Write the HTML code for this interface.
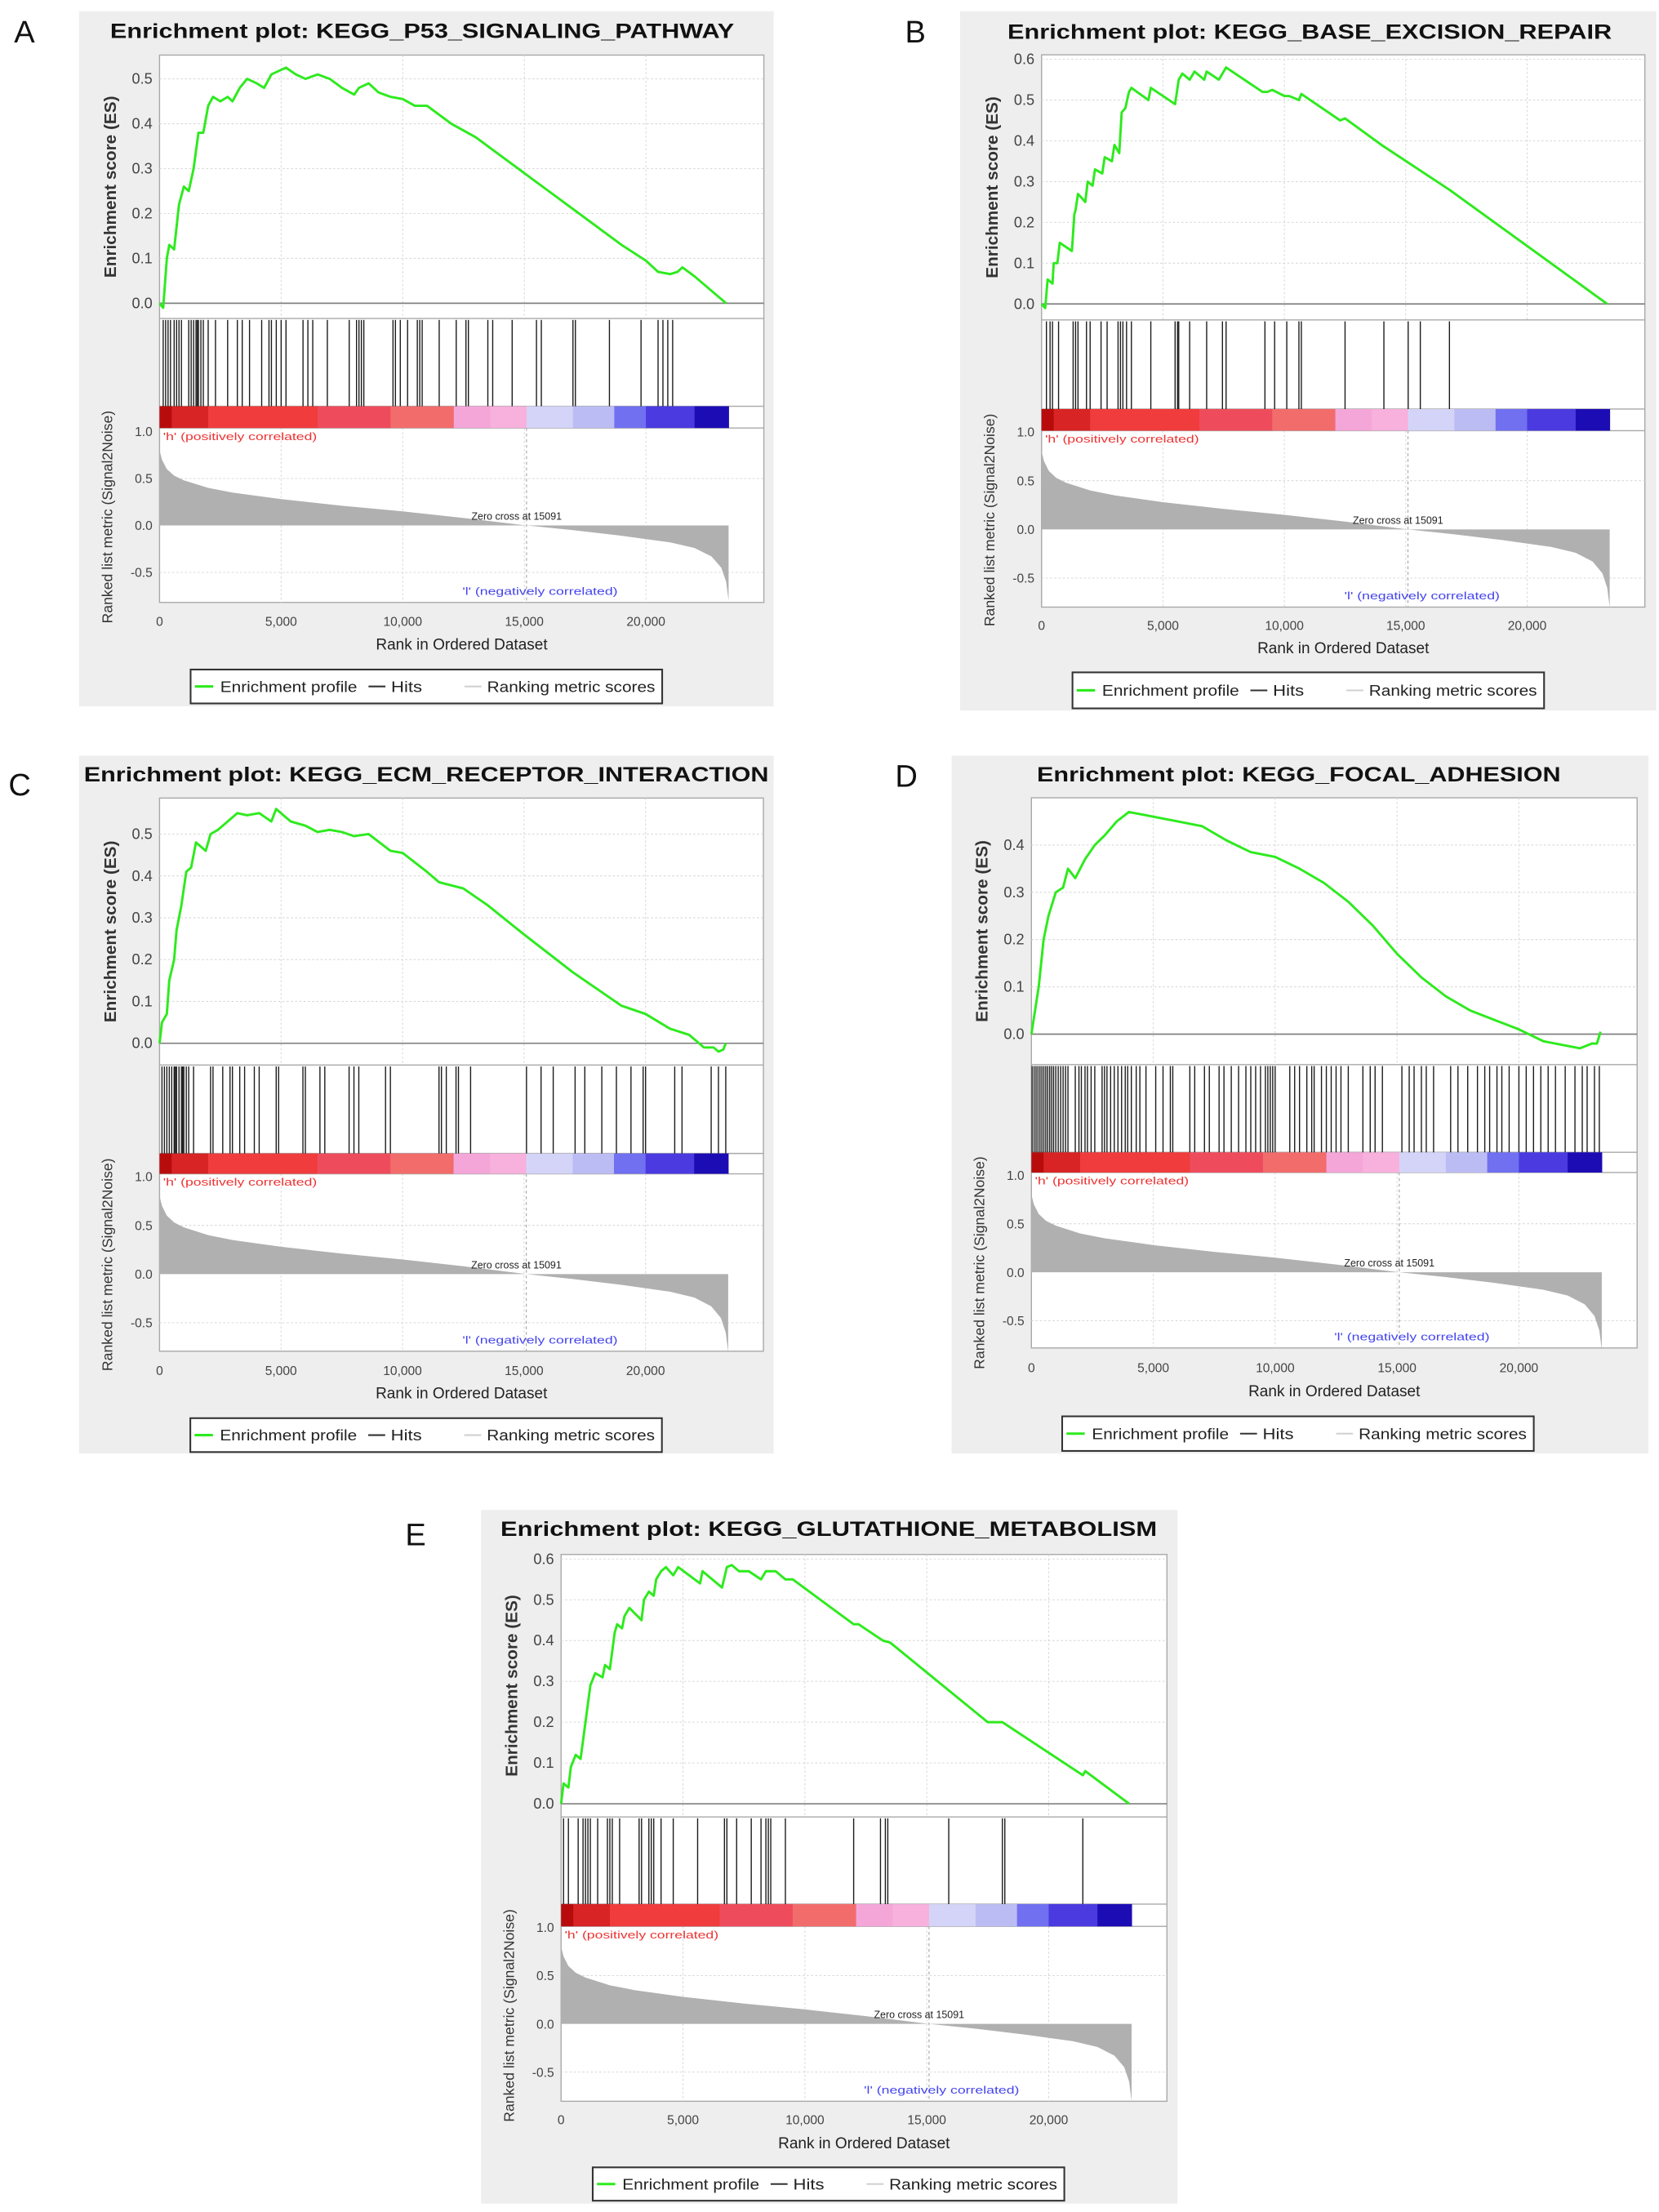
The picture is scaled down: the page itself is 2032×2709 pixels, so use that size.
<!DOCTYPE html>
<html><head><meta charset="utf-8"><title>GSEA enrichment plots</title>
<style>
html,body{margin:0;padding:0;background:#fff;}
svg{display:block;font-family:"Liberation Sans",Arial,sans-serif;}
</style></head>
<body>
<svg id="fig" xmlns="http://www.w3.org/2000/svg" width="2032" height="2709" viewBox="0 0 1175 1566" preserveAspectRatio="none"></svg>
<script>
// ---------- DATA ----------
const xTickValues = [0, 5000, 10000, 15000, 20000];
const xTickLabels = ["0", "5,000", "10,000", "15,000", "20,000"];
const rankedTickValues = [1.0, 0.5, 0.0, -0.5];
const rankedTickLabels = ["1.0", "0.5", "0.0", "-0.5"];
const zeroCross = 15091;
const metricRanks = [0,100,300,600,1000,2000,3000,5000,7500,10000,12500,15091,17000,19000,21000,22000,22700,23100,23300,23400];
const metricVals = [0.8,0.7,0.6,0.53,0.48,0.4,0.35,0.28,0.21,0.15,0.08,0,-0.05,-0.11,-0.18,-0.24,-0.33,-0.45,-0.6,-0.8];
const barEdges = [0,500,2000,6500,9500,12100,13600,15091,17000,18700,20000,22000,23400];
const barColors = ["#b80c0c","#d82424","#f03c3c","#ee4c5c","#f26c6c","#f4a6d8","#f8b0dc","#d4d4f8","#bcbcf4","#7070f0","#4a3ae0","#1c0cb4"];

const esRanksA = [0,150,300,400,600,800,1000,1200,1400,1600,1800,2000,2200,2500,2800,3000,3300,3600,4000,4300,4600,5000,5200,5600,6000,6500,7000,7500,8000,8200,8600,9000,9500,10000,10500,11000,12000,13000,14000,15000,16000,17000,18000,19000,20000,20500,21000,21300,21500,22000,23300];
const esValsA = [0,-0.01,0.1,0.13,0.12,0.22,0.26,0.25,0.3,0.38,0.38,0.44,0.46,0.45,0.46,0.45,0.48,0.5,0.49,0.48,0.51,0.52,0.525,0.51,0.5,0.51,0.5,0.48,0.465,0.48,0.49,0.47,0.46,0.455,0.44,0.44,0.4,0.37,0.33,0.29,0.25,0.21,0.17,0.13,0.095,0.07,0.065,0.07,0.08,0.06,0];
const hitsA = [150,250,350,450,600,700,800,900,1200,1300,1400,1500,1550,1600,1700,1800,2000,2300,2800,3200,3400,3700,4200,4500,4600,4800,5000,5200,5900,6100,6300,6900,7800,8100,8200,8300,8400,9600,9700,9900,10200,10600,10700,10800,11500,12200,12600,12700,13500,13700,14500,15500,15700,17000,17100,18500,19800,20500,20700,20900,21100];

const esRanksB = [0,150,250,450,500,650,750,1250,1350,1400,1500,1800,1900,2100,2200,2500,2600,2900,3000,3200,3300,3450,3600,3700,4400,4500,5500,5650,5800,6100,6300,6700,6800,7300,7600,9100,9300,9500,10000,10200,10600,10700,12300,12500,14000,16800,23300];
const esValsB = [0,-0.01,0.06,0.05,0.1,0.1,0.15,0.13,0.22,0.23,0.27,0.25,0.3,0.29,0.33,0.32,0.36,0.35,0.39,0.37,0.47,0.48,0.52,0.53,0.5,0.53,0.49,0.55,0.565,0.55,0.57,0.55,0.57,0.55,0.58,0.52,0.52,0.525,0.51,0.51,0.5,0.515,0.45,0.455,0.39,0.28,0];
const hitsB = [200,350,450,700,1300,1400,1500,1850,2000,2450,2700,3150,3250,3350,3500,3700,4500,5500,5600,5650,6100,6800,7450,7600,9200,9600,10100,10600,10700,12500,14100,15100,15600,16800];

const esRanksC = [0,100,300,400,600,700,900,1100,1300,1400,1500,1900,2100,2400,2800,3200,3600,4100,4600,4800,5400,6000,6500,7000,7500,8000,8600,9500,10000,11000,11500,12500,13500,15000,17000,19000,20000,21000,21800,22400,22800,23000,23200,23300];
const esValsC = [0,0.05,0.07,0.15,0.2,0.27,0.33,0.41,0.42,0.45,0.48,0.46,0.5,0.51,0.53,0.55,0.545,0.55,0.53,0.56,0.53,0.52,0.505,0.51,0.505,0.495,0.5,0.46,0.455,0.41,0.385,0.37,0.33,0.26,0.17,0.09,0.07,0.035,0.02,-0.01,-0.01,-0.02,-0.015,0];
const hitsC = [100,200,300,400,500,600,650,700,800,900,950,1000,1100,1200,1400,2100,2200,2600,2900,3000,3300,3500,3900,4100,4800,4900,5900,6000,6600,6800,7800,8000,8200,9300,9500,11500,11600,11800,12200,12300,12800,15100,15700,16200,17100,17500,18200,18800,19400,19900,20000,21200,21500,22700,23000,23300];

const esRanksD = [0,150,300,500,700,1000,1300,1500,1800,2200,2600,3000,3500,4000,5000,6000,7000,8000,9000,10000,11000,12000,13000,14000,15000,16000,17000,18000,19000,20000,21000,22000,22500,23000,23200,23350];
const esValsD = [0,0.05,0.1,0.2,0.25,0.3,0.31,0.35,0.33,0.37,0.4,0.42,0.45,0.47,0.46,0.45,0.44,0.41,0.385,0.375,0.35,0.32,0.28,0.23,0.17,0.12,0.08,0.05,0.03,0.01,-0.015,-0.025,-0.03,-0.02,-0.02,0.005];
const hitsD = [30,110,190,270,350,430,510,590,670,750,830,910,1000,1100,1200,1300,1400,1500,1800,1950,2050,2200,2300,2450,2600,2900,3000,3100,3250,3400,3550,3700,3850,3950,4100,4300,4450,4700,5100,5400,5700,5800,6500,6700,7100,7300,7700,7900,8200,8500,8800,9000,9200,9400,9600,9700,9800,9900,10000,10600,10800,11000,11300,11500,11600,11900,12100,12300,12500,12700,13000,13600,13900,14100,14400,15200,15500,15700,16000,16200,16500,17200,17500,17900,18300,18600,18800,19100,19300,19600,20000,20300,20600,20900,21200,21500,21900,22300,22600,22800,23100,23300];

const esRanksE = [0,100,300,400,600,800,1000,1200,1400,1700,1800,2000,2200,2300,2500,2600,2800,3300,3400,3600,3800,3900,4100,4300,4600,4800,5700,5800,6600,6800,7000,7300,7700,8200,8400,8800,9200,9500,12000,12200,13200,13500,17500,18100,21400,21500,23300];
const esValsE = [0,0.05,0.04,0.09,0.12,0.11,0.2,0.29,0.32,0.31,0.34,0.33,0.42,0.44,0.43,0.46,0.48,0.45,0.5,0.52,0.51,0.55,0.57,0.58,0.56,0.58,0.54,0.57,0.53,0.58,0.585,0.57,0.57,0.55,0.57,0.57,0.55,0.55,0.44,0.44,0.4,0.395,0.2,0.2,0.07,0.08,0];
const hitsE = [100,300,700,900,1000,1100,1200,1500,1900,2000,2100,2400,3200,3300,3600,3700,3800,4100,4600,5600,6700,6800,7200,7800,8200,8400,8500,8600,9200,12000,13100,13300,13400,15900,18100,18200,21400];

const esTicksA = [0,0.1,0.2,0.3,0.4,0.5];
const esTicksB = [0,0.1,0.2,0.3,0.4,0.5,0.6];
const esTicksD = [0,0.1,0.2,0.3,0.4];

// ---------- LAYOUT ----------
const panels = [
 {id:"a", letter:"A", lx:10, ly:30, title:"Enrichment plot: KEGG_P53_SIGNALING_PATHWAY", tx:78, ty:26.8, tw:442,
  bg:[56,8,548,500], L:113, R:541, top:39, zero:214.7, esMax:0.553, esTicks:esTicksA,
  hitsTop:225.5, barTop:287.6, barBot:303, r1:305.5, r0:372, bottom:426.5, tickY:443, labelY:460, legX:135, legTop:474, legBot:498,
  esR:esRanksA, esV:esValsA, hits:hitsA},
 {id:"b", letter:"B", lx:641, ly:30, title:"Enrichment plot: KEGG_BASE_EXCISION_REPAIR", tx:713.6, ty:27.5, tw:428,
  bg:[680,8,1173,503], L:737.7, R:1165, top:38.8, zero:215.2, esMax:0.611, esTicks:esTicksB,
  hitsTop:226.5, barTop:289.6, barBot:304.9, r1:305.8, r0:374.8, bottom:429.8, tickY:446, labelY:462.5, legX:759.6, legTop:476, legBot:501.5,
  esR:esRanksB, esV:esValsB, hits:hitsB},
 {id:"c", letter:"C", lx:6, ly:563, title:"Enrichment plot: KEGG_ECM_RECEPTOR_INTERACTION", tx:59.4, ty:553.3, tw:485,
  bg:[56,535,548,1029], L:113, R:540.7, top:565, zero:738.6, esMax:0.586, esTicks:esTicksA,
  hitsTop:754, barTop:816.6, barBot:831, r1:833, r0:902, bottom:956.6, tickY:973.5, labelY:990, legX:134.8, legTop:1004, legBot:1028,
  esR:esRanksC, esV:esValsC, hits:hitsC},
 {id:"d", letter:"D", lx:634, ly:557, title:"Enrichment plot: KEGG_FOCAL_ADHESION", tx:734.4, ty:553.3, tw:371,
  bg:[674,535,1167.6,1029], L:730.5, R:1159.5, top:564.8, zero:732.1, esMax:0.50, esTicks:esTicksD,
  hitsTop:753.7, barTop:815.8, barBot:830.1, r1:832, r0:900.7, bottom:954.3, tickY:971.5, labelY:988.5, legX:752.3, legTop:1002.7, legBot:1027.2,
  esR:esRanksD, esV:esValsD, hits:hitsD},
 {id:"e", letter:"E", lx:287, ly:1094, title:"Enrichment plot: KEGG_GLUTATHIONE_METABOLISM", tx:354.5, ty:1087.3, tw:465,
  bg:[340.7,1069,834,1560], L:397.4, R:826.5, top:1100.5, zero:1277, esMax:0.611, esTicks:esTicksB,
  hitsTop:1286.3, barTop:1348, barBot:1363.8, r1:1364.5, r0:1432.8, bottom:1487.6, tickY:1504, labelY:1521, legX:419.8, legTop:1534.4, legBot:1558,
  esR:esRanksE, esV:esValsE, hits:hitsE}
];
const X_MAX = 24850;
const NS = "http://www.w3.org/2000/svg";
const svg = document.getElementById("fig");

function mk(parent, tag, attrs, text) {
  const e = document.createElementNS(NS, tag);
  for (const k in attrs) e.setAttribute(k, attrs[k]);
  if (text !== undefined) e.textContent = text;
  parent.appendChild(e);
  return e;
}

panels.forEach(p => {
  const g = mk(svg, "g", {});
  
  
  const xs = r => p.L + r / X_MAX * (p.R - p.L);
  const ys = v => p.zero - v * (p.zero - p.top) / p.esMax;
  const yr = v => p.r0 - v * (p.r0 - p.r1);

  const lt = mk(svg, "text", {x:p.lx, y:p.ly, "font-size":22, fill:"#111"}, p.letter);
  
  

  const bg = mk(g, "rect", {x:p.bg[0], y:p.bg[1], width:p.bg[2]-p.bg[0], height:p.bg[3]-p.bg[1], fill:"#eeeeee"});
  
  

  const t = mk(g, "text", {x:p.tx, y:p.ty, "font-size":14.5, "font-weight":"bold", fill:"#111", textLength:p.tw, lengthAdjust:"spacingAndGlyphs"}, p.title);
  
  

  const plot = mk(g, "rect", {x:p.L, y:p.top, width:p.R-p.L, height:p.bottom-p.top, fill:"#fff", stroke:"#a8a8a8", "stroke-width":0.8});
  
  

  xTickValues.forEach(v => {
    if (v === 0) return;
    const gl = mk(g, "line", {x1:xs(v), x2:xs(v), y1:p.top, y2:p.hitsTop, stroke:"#d8d8d8", "stroke-width":0.6, "stroke-dasharray":"1.5,1.5"});
    
    
    const gl2 = mk(g, "line", {x1:xs(v), x2:xs(v), y1:p.barBot, y2:p.bottom, stroke:"#d8d8d8", "stroke-width":0.6, "stroke-dasharray":"1.5,1.5"});
    
    
  });
  p.esTicks.forEach(v => {
    if (v === 0) return;
    const gl = mk(g, "line", {x1:p.L, x2:p.R, y1:ys(v), y2:ys(v), stroke:"#d8d8d8", "stroke-width":0.6, "stroke-dasharray":"1.5,1.5"});
    
    
  });
  rankedTickValues.forEach(v => {
    if (v === 0 || v === 1) return;
    const gl = mk(g, "line", {x1:p.L, x2:p.R, y1:yr(v), y2:yr(v), stroke:"#d8d8d8", "stroke-width":0.6, "stroke-dasharray":"1.5,1.5"});
    
    
  });

  p.esTicks.forEach(v => {
    const tl = mk(g, "text", {x:p.L-5, y:ys(v)+3.5, "font-size":10.5, fill:"#444", "text-anchor":"end"}, v.toFixed(1));
    
    
  });
  rankedTickValues.forEach((v, i) => {
    const tl = mk(g, "text", {x:p.L-5, y:yr(v)+3.3, "font-size":9, fill:"#444", "text-anchor":"end"}, rankedTickLabels[i]);
    
    
  });
  xTickValues.forEach((v, i) => {
    const tl = mk(g, "text", {x:xs(v), y:p.tickY, "font-size":9, fill:"#444", "text-anchor":"middle"}, xTickLabels[i]);
    
    
  });

  [p.hitsTop, p.barTop, p.barBot].forEach(y => {
    const s = mk(g, "line", {x1:p.L, x2:p.R, y1:y, y2:y, stroke:"#a8a8a8", "stroke-width":0.8});
    
    
  });
  const zl = mk(g, "line", {x1:p.L, x2:p.R, y1:ys(0), y2:ys(0), stroke:"#808080", "stroke-width":1});
  
  

  let d = "M" + xs(metricRanks[0]) + "," + yr(0);
  metricRanks.forEach((r, i) => { d += " L" + xs(r).toFixed(2) + "," + yr(metricVals[i]).toFixed(2); });
  d += " L" + xs(metricRanks[metricRanks.length-1]).toFixed(2) + "," + yr(0) + " Z";
  const mf = mk(g, "path", {d:d, fill:"#b0b0b0", stroke:"none"});
  
  

  const zc = mk(g, "line", {x1:xs(zeroCross), x2:xs(zeroCross), y1:p.barBot, y2:p.bottom, stroke:"#aaa", "stroke-width":0.7, "stroke-dasharray":"2,2"});
  
  
  const zt = mk(g, "text", {x:xs(zeroCross)-39, y:yr(0)-4, "font-size":7.2, fill:"#222"}, "Zero cross at 15091");
  
  

  barColors.forEach((c, i) => {
    const s = mk(g, "rect", {x:xs(barEdges[i]), y:p.barTop, width:xs(barEdges[i+1])-xs(barEdges[i])+0.3, height:p.barBot-p.barTop, fill:c});
    
    
  });

  p.hits.forEach(h => {
    const hl = mk(g, "line", {x1:xs(h), x2:xs(h), y1:p.hitsTop+1, y2:p.barTop, stroke:"#1a1a1a", "stroke-width":0.8});
    
    
  });

  const pts = p.esR.map((r, i) => xs(r).toFixed(2) + "," + ys(p.esV[i]).toFixed(2)).join(" ");
  const es = mk(g, "polyline", {points:pts, fill:"none", stroke:"#2eea1e", "stroke-width":1.7, "stroke-linejoin":"round"});
  
  

  const hp = mk(g, "text", {x:p.L+2.5, y:p.barBot+8.5, "font-size":7.4, fill:"#ee3333", textLength:109, lengthAdjust:"spacingAndGlyphs"}, "'h' (positively correlated)");
  
  
  const ln = mk(g, "text", {x:p.L+214.5, y:p.bottom-5.5, "font-size":7.4, fill:"#4444ee", textLength:110, lengthAdjust:"spacingAndGlyphs"}, "'l' (negatively correlated)");
  
  

  const esMid = (p.top + p.hitsTop) / 2;
  const ya = mk(g, "text", {x:p.L-35, y:esMid, "font-size":12, "font-weight":"bold", fill:"#333", "text-anchor":"middle", transform:"rotate(-90 " + (p.L-35) + " " + esMid + ")", dy:4}, "Enrichment score (ES)");
  
  
  const rMid = (p.hitsTop + 50 + p.bottom + 30) / 2;
  const ra = mk(g, "text", {x:p.L-37, y:rMid, "font-size":10.2, fill:"#333", "text-anchor":"middle", transform:"rotate(-90 " + (p.L-37) + " " + rMid + ")", dy:3.5}, "Ranked list metric (Signal2Noise)");
  
  
  const xa = mk(g, "text", {x:(p.L+p.R)/2, y:p.labelY, "font-size":11, fill:"#222", "text-anchor":"middle"}, "Rank in Ordered Dataset");
  
  

  const lg = mk(g, "g", {});
  
  
  const lb = mk(lg, "rect", {x:p.legX, y:p.legTop, width:334, height:p.legBot-p.legTop, fill:"#fff", stroke:"#333", "stroke-width":1.2});
  
  
  const cy = (p.legTop + p.legBot) / 2;
  const l1 = mk(lg, "line", {x1:p.legX+3, x2:p.legX+16, y1:cy, y2:cy, stroke:"#2eea1e", "stroke-width":1.8});
  
  
  const t1 = mk(lg, "text", {x:p.legX+21, y:cy+3.8, "font-size":10.5, fill:"#222", textLength:97, lengthAdjust:"spacingAndGlyphs"}, "Enrichment profile");
  
  
  const l2 = mk(lg, "line", {x1:p.legX+126, x2:p.legX+138, y1:cy, y2:cy, stroke:"#333", "stroke-width":1.2});
  
  
  const t2 = mk(lg, "text", {x:p.legX+142, y:cy+3.8, "font-size":10.5, fill:"#222", textLength:22, lengthAdjust:"spacingAndGlyphs"}, "Hits");
  
  
  const l3 = mk(lg, "line", {x1:p.legX+194, x2:p.legX+206, y1:cy, y2:cy, stroke:"#d0d0d0", "stroke-width":1.2});
  
  
  const t3 = mk(lg, "text", {x:p.legX+210, y:cy+3.8, "font-size":10.5, fill:"#222", textLength:119, lengthAdjust:"spacingAndGlyphs"}, "Ranking metric scores");
  
  
});
</script>
</body></html>
